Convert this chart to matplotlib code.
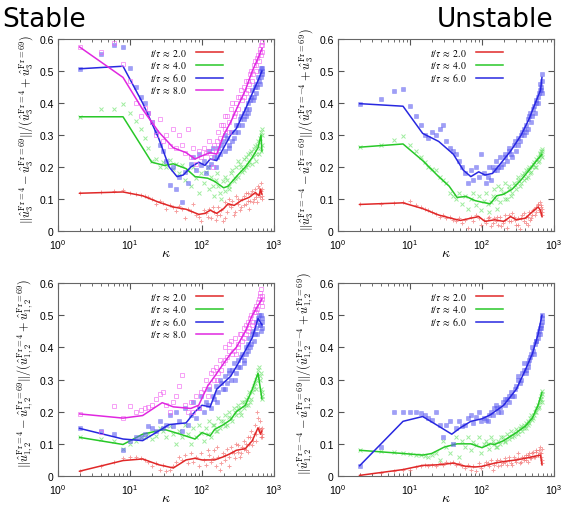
import matplotlib
matplotlib.use("Agg")
import matplotlib.pyplot as plt
from matplotlib.font_manager import FontProperties

# wavenumbers of the sampled shells (scatter points)
kappa_pts = [2, 4, 6, 8, 10, 12, 14, 16, 18, 20, 23, 26, 29, 32, 36, 40, 44, 48, 53, 58,
             64, 70, 76, 83, 90, 98, 106, 115, 124, 134, 145, 156, 168, 180, 194, 208, 223, 239, 256, 274,
             293, 313, 334, 356, 380, 405, 430, 456, 484, 512, 540, 570, 600, 630, 655, 675, 690]
kappa_hi = [120, 140, 160, 185, 210, 235, 262, 290, 320, 350, 380, 410, 440, 470, 500, 530, 560, 590, 615, 640, 660, 680]

times = ["2.0", "4.0", "6.0", "8.0"]

# ---------------- Stable, u3 ----------------
s3_k2 = [2, 8, 15, 25, 40, 60, 90, 110, 130, 160, 200, 230, 280, 350, 450, 550, 620, 650, 680]
s3_v2 = [0.118, 0.122, 0.11, 0.09, 0.075, 0.068, 0.052, 0.055, 0.065, 0.055, 0.07, 0.085, 0.08, 0.095, 0.105, 0.12, 0.11, 0.13, 0.115]
s3_k4 = [2, 8, 20, 30, 40, 60, 80, 120, 150, 200, 230, 300, 400, 500, 600, 660, 680]
s3_v4 = [0.357, 0.357, 0.215, 0.205, 0.21, 0.195, 0.17, 0.165, 0.155, 0.135, 0.14, 0.17, 0.2, 0.23, 0.26, 0.3, 0.25]
s3_k6 = [2, 8, 15, 25, 35, 45, 55, 70, 90, 110, 130, 160, 200, 250, 300, 400, 500, 600, 680]
s3_v6 = [0.507, 0.515, 0.4, 0.29, 0.2, 0.17, 0.175, 0.2, 0.215, 0.205, 0.225, 0.22, 0.26, 0.3, 0.32, 0.38, 0.43, 0.47, 0.5]
s3_k8 = [2, 8, 15, 25, 40, 60, 80, 100, 130, 160, 200, 250, 300, 400, 500, 600, 680]
s3_v8 = [0.575, 0.48, 0.38, 0.31, 0.26, 0.245, 0.225, 0.235, 0.245, 0.24, 0.3, 0.34, 0.38, 0.44, 0.5, 0.54, 0.57]

s3_p2 = [0.118, 0.122, 0.125, 0.127, 0.12, 0.115, 0.112, 0.108, 0.105, 0.1, 0.085, 0.095, 0.088, 0.07, 0.082, 0.075, 0.062, 0.078, 0.07, 0.04,
         0.068, 0.062, 0.085, 0.05, 0.045, 0.03, 0.065, 0.055, 0.07, 0.04, 0.06, 0.035, 0.075, 0.05, 0.03, 0.09, 0.06, 0.1, 0.075, 0.05,
         0.11, 0.085, 0.065, 0.1, 0.08, 0.12, 0.095, 0.07, 0.115, 0.09, 0.13, 0.105, 0.14, 0.12, 0.15, 0.11, 0.13]
s3_h2 = [0.045, 0.075, 0.05, 0.065, 0.04, 0.08, 0.095, 0.06, 0.1, 0.075, 0.11, 0.085, 0.12, 0.095, 0.125, 0.1, 0.115, 0.09, 0.135, 0.105, 0.125, 0.1]
s3_p4 = [0.357, 0.38, 0.38, 0.398, 0.37, 0.345, 0.32, 0.29, 0.26, 0.22, 0.225, 0.2, 0.215, 0.2, 0.222, 0.195, 0.21, 0.18, 0.205, 0.16,
         0.19, 0.14, 0.2, 0.165, 0.12, 0.18, 0.15, 0.185, 0.13, 0.17, 0.11, 0.16, 0.14, 0.12, 0.155, 0.125, 0.16, 0.14, 0.18, 0.155,
         0.2, 0.17, 0.21, 0.185, 0.225, 0.2, 0.24, 0.215, 0.25, 0.23, 0.265, 0.24, 0.28, 0.26, 0.31, 0.27, 0.3]
s3_h4 = [0.2, 0.14, 0.18, 0.1, 0.17, 0.13, 0.19, 0.165, 0.22, 0.2, 0.19, 0.23, 0.205, 0.245, 0.21, 0.255, 0.22, 0.27, 0.24, 0.29, 0.25, 0.32]
s3_p6 = [0.507, 0.553, 0.58, 0.575, 0.51, 0.45, 0.42, 0.4, 0.37, 0.34, 0.31, 0.27, 0.25, 0.22, 0.145, 0.2, 0.13, 0.17, 0.09, 0.185,
         0.15, 0.21, 0.23, 0.19, 0.24, 0.205, 0.22, 0.18, 0.25, 0.21, 0.23, 0.2, 0.26, 0.24, 0.28, 0.25, 0.29, 0.27, 0.31, 0.29,
         0.33, 0.31, 0.35, 0.33, 0.37, 0.36, 0.4, 0.38, 0.42, 0.41, 0.45, 0.43, 0.48, 0.46, 0.51, 0.49, 0.5]
s3_h6 = [0.2, 0.26, 0.23, 0.27, 0.3, 0.26, 0.28, 0.31, 0.33, 0.36, 0.35, 0.38, 0.37, 0.41, 0.44, 0.42, 0.46, 0.45, 0.47, 0.5, 0.48, 0.51]
s3_p8 = [0.575, 0.56, 0.588, 0.522, 0.47, 0.4, 0.36, 0.385, 0.37, 0.34, 0.3, 0.35, 0.28, 0.3, 0.265, 0.32, 0.26, 0.3, 0.27, 0.245,
         0.32, 0.23, 0.26, 0.21, 0.25, 0.23, 0.26, 0.245, 0.28, 0.23, 0.27, 0.25, 0.31, 0.29, 0.33, 0.32, 0.36, 0.34, 0.38, 0.36,
         0.4, 0.38, 0.42, 0.41, 0.45, 0.43, 0.47, 0.46, 0.5, 0.49, 0.53, 0.52, 0.55, 0.56, 0.58, 0.56, 0.59]
s3_h8 = [0.25, 0.2, 0.28, 0.33, 0.36, 0.31, 0.4, 0.37, 0.42, 0.44, 0.42, 0.47, 0.44, 0.49, 0.47, 0.52, 0.5, 0.54, 0.53, 0.57, 0.55, 0.58]

# ---------------- Unstable, u3 ----------------
u3_k2 = [2, 8, 15, 25, 40, 50, 70, 90, 110, 150, 200, 250, 300, 400, 500, 600, 650, 680]
u3_v2 = [0.083, 0.088, 0.07, 0.05, 0.038, 0.033, 0.04, 0.045, 0.03, 0.035, 0.03, 0.045, 0.035, 0.04, 0.06, 0.075, 0.065, 0.045]
u3_k4 = [2, 8, 15, 25, 35, 45, 60, 80, 100, 130, 160, 200, 260, 350, 450, 550, 680]
u3_v4 = [0.262, 0.272, 0.22, 0.17, 0.14, 0.105, 0.108, 0.095, 0.09, 0.085, 0.11, 0.115, 0.13, 0.16, 0.19, 0.215, 0.24]
u3_k6 = [2, 8, 15, 25, 40, 55, 70, 90, 110, 140, 180, 250, 350, 450, 550, 650, 680]
u3_v6 = [0.398, 0.39, 0.305, 0.28, 0.24, 0.19, 0.17, 0.185, 0.175, 0.18, 0.21, 0.25, 0.3, 0.35, 0.4, 0.44, 0.48]

u3_p2 = [0.083, 0.085, 0.087, 0.09, 0.095, 0.08, 0.075, 0.07, 0.065, 0.06, 0.052, 0.045, 0.05, 0.04, 0.045, 0.035, 0.03, 0.04, 0.025, 0.035,
         0.01, 0.045, 0.03, 0.05, 0.04, 0.02, 0.035, 0.025, 0.045, 0.015, 0.04, 0.03, 0.02, 0.045, 0.025, 0.035, 0.01, 0.05, 0.03, 0.045,
         0.02, 0.04, 0.005, 0.05, 0.03, 0.045, 0.02, 0.06, 0.04, 0.065, 0.05, 0.075, 0.085, 0.06, 0.08, 0.05, 0.07]
u3_h2 = [0.04, 0.025, 0.045, 0.015, 0.05, 0.03, 0.055, 0.035, 0.02, 0.04, 0.055, 0.025, 0.045, 0.035, 0.05, 0.07, 0.06, 0.08, 0.065, 0.09, 0.075, 0.06]
u3_p4 = [0.262, 0.27, 0.285, 0.298, 0.27, 0.25, 0.23, 0.215, 0.2, 0.195, 0.19, 0.17, 0.16, 0.15, 0.12, 0.11, 0.1, 0.12, 0.085, 0.11,
         0.07, 0.1, 0.12, 0.08, 0.11, 0.065, 0.095, 0.12, 0.06, 0.09, 0.13, 0.1, 0.14, 0.09, 0.12, 0.15, 0.1, 0.13, 0.11, 0.15,
         0.13, 0.16, 0.14, 0.175, 0.16, 0.19, 0.17, 0.2, 0.185, 0.21, 0.2, 0.225, 0.215, 0.24, 0.25, 0.23, 0.255]
u3_h4 = [0.085, 0.11, 0.07, 0.13, 0.1, 0.14, 0.12, 0.145, 0.17, 0.15, 0.18, 0.165, 0.195, 0.18, 0.2, 0.215, 0.2, 0.23, 0.22, 0.245, 0.235, 0.25]
u3_p6 = [0.398, 0.413, 0.437, 0.443, 0.39, 0.36, 0.33, 0.3, 0.29, 0.31, 0.3, 0.32, 0.33, 0.28, 0.26, 0.25, 0.24, 0.22, 0.2, 0.18,
         0.15, 0.19, 0.16, 0.2, 0.17, 0.24, 0.18, 0.15, 0.2, 0.16, 0.19, 0.22, 0.2, 0.23, 0.21, 0.24, 0.22, 0.26, 0.24, 0.27,
         0.25, 0.29, 0.28, 0.31, 0.3, 0.33, 0.32, 0.36, 0.34, 0.38, 0.37, 0.4, 0.42, 0.44, 0.45, 0.43, 0.49]
u3_h6 = [0.17, 0.2, 0.19, 0.2, 0.23, 0.25, 0.23, 0.28, 0.27, 0.3, 0.32, 0.31, 0.35, 0.37, 0.36, 0.39, 0.41, 0.4, 0.43, 0.46, 0.44, 0.47]

# ---------------- Stable, u12 ----------------
s12_k2 = [2, 8, 15, 25, 40, 60, 80, 100, 150, 200, 250, 300, 400, 500, 600, 650, 680]
s12_v2 = [0.015, 0.048, 0.053, 0.035, 0.025, 0.05, 0.055, 0.05, 0.05, 0.06, 0.07, 0.08, 0.085, 0.11, 0.15, 0.13, 0.14]
s12_k4 = [2, 8, 15, 30, 50, 80, 100, 130, 150, 200, 250, 300, 400, 500, 600, 680]
s12_v4 = [0.12, 0.098, 0.13, 0.145, 0.13, 0.115, 0.135, 0.125, 0.145, 0.16, 0.175, 0.2, 0.22, 0.27, 0.32, 0.24]
s12_k6 = [2, 8, 15, 25, 35, 60, 80, 100, 130, 160, 200, 250, 300, 400, 500, 600, 680]
s12_v6 = [0.148, 0.115, 0.11, 0.14, 0.16, 0.165, 0.2, 0.22, 0.215, 0.27, 0.29, 0.31, 0.34, 0.39, 0.43, 0.49, 0.47]
s12_k8 = [2, 8, 15, 28, 40, 70, 90, 120, 150, 200, 250, 300, 400, 500, 600, 680]
s12_v8 = [0.193, 0.18, 0.188, 0.228, 0.215, 0.21, 0.22, 0.28, 0.31, 0.35, 0.38, 0.4, 0.45, 0.5, 0.53, 0.55]

s12_p2 = [0.015, 0.03, 0.045, 0.055, 0.06, 0.06, 0.055, 0.05, 0.045, 0.03, 0.04, 0.02, 0.035, 0.015, 0.02, 0.03, 0.045, 0.06, 0.05, 0.065,
          0.04, 0.07, 0.045, 0.06, 0.03, 0.07, 0.05, 0.035, 0.065, 0.045, 0.08, 0.03, 0.06, 0.02, 0.07, 0.05, 0.085, 0.06, 0.09, 0.07,
          0.1, 0.075, 0.06, 0.09, 0.11, 0.08, 0.12, 0.1, 0.14, 0.11, 0.16, 0.13, 0.18, 0.14, 0.12, 0.15, 0.13]
s12_h2 = [0.08, 0.055, 0.09, 0.04, 0.065, 0.03, 0.075, 0.055, 0.095, 0.07, 0.085, 0.1, 0.075, 0.12, 0.095, 0.13, 0.11, 0.2, 0.15, 0.17, 0.145, 0.12]
s12_p4 = [0.12, 0.115, 0.11, 0.085, 0.1, 0.11, 0.12, 0.12, 0.13, 0.115, 0.125, 0.15, 0.14, 0.12, 0.155, 0.13, 0.1, 0.14, 0.12, 0.16,
          0.13, 0.1, 0.15, 0.12, 0.16, 0.135, 0.11, 0.15, 0.17, 0.12, 0.16, 0.14, 0.18, 0.15, 0.17, 0.19, 0.16, 0.2, 0.18, 0.21,
          0.19, 0.22, 0.2, 0.23, 0.21, 0.24, 0.22, 0.26, 0.24, 0.27, 0.29, 0.3, 0.33, 0.31, 0.27, 0.25, 0.24]
s12_h4 = [0.13, 0.16, 0.14, 0.17, 0.155, 0.185, 0.17, 0.2, 0.21, 0.19, 0.23, 0.22, 0.245, 0.23, 0.26, 0.28, 0.27, 0.31, 0.34, 0.3, 0.32, 0.26]
s12_p6 = [0.148, 0.14, 0.13, 0.08, 0.11, 0.12, 0.12, 0.13, 0.155, 0.15, 0.14, 0.17, 0.15, 0.16, 0.19, 0.155, 0.2, 0.17, 0.14, 0.21,
          0.16, 0.19, 0.23, 0.18, 0.21, 0.25, 0.2, 0.23, 0.27, 0.21, 0.24, 0.28, 0.26, 0.3, 0.27, 0.31, 0.29, 0.33, 0.3, 0.35,
          0.32, 0.36, 0.34, 0.38, 0.36, 0.4, 0.39, 0.43, 0.41, 0.45, 0.44, 0.48, 0.49, 0.47, 0.5, 0.46, 0.48]
s12_h6 = [0.22, 0.25, 0.23, 0.29, 0.27, 0.32, 0.33, 0.3, 0.34, 0.37, 0.35, 0.38, 0.41, 0.4, 0.44, 0.42, 0.46, 0.44, 0.5, 0.47, 0.45, 0.49]
s12_p8 = [0.193, 0.137, 0.217, 0.18, 0.217, 0.2, 0.205, 0.21, 0.215, 0.22, 0.24, 0.255, 0.26, 0.22, 0.2, 0.23, 0.25, 0.28, 0.315, 0.22,
          0.2, 0.23, 0.2, 0.25, 0.21, 0.26, 0.27, 0.3, 0.28, 0.32, 0.3, 0.34, 0.32, 0.36, 0.35, 0.4, 0.37, 0.39, 0.42, 0.39,
          0.38, 0.41, 0.44, 0.42, 0.46, 0.44, 0.48, 0.46, 0.5, 0.48, 0.52, 0.51, 0.54, 0.56, 0.58, 0.55, 0.53]
s12_h8 = [0.25, 0.33, 0.3, 0.33, 0.36, 0.41, 0.38, 0.43, 0.4, 0.44, 0.43, 0.47, 0.45, 0.49, 0.47, 0.51, 0.53, 0.52, 0.55, 0.57, 0.54, 0.56]

# ---------------- Unstable, u12 ----------------
u12_k2 = [2, 8, 15, 25, 40, 60, 80, 100, 150, 200, 300, 400, 500, 650, 680]
u12_v2 = [0.002, 0.02, 0.033, 0.035, 0.04, 0.03, 0.028, 0.03, 0.04, 0.045, 0.05, 0.055, 0.06, 0.065, 0.035]
u12_k4 = [2, 8, 15, 20, 30, 45, 70, 100, 130, 150, 200, 300, 400, 500, 600, 680]
u12_v4 = [0.08, 0.07, 0.065, 0.07, 0.09, 0.1, 0.1, 0.088, 0.1, 0.098, 0.11, 0.135, 0.155, 0.18, 0.22, 0.26]
u12_k6 = [2, 8, 15, 25, 38, 50, 70, 100, 130, 200, 300, 400, 500, 600, 680]
u12_v6 = [0.032, 0.17, 0.185, 0.155, 0.13, 0.15, 0.17, 0.178, 0.19, 0.22, 0.27, 0.33, 0.38, 0.44, 0.5]

u12_p2 = [0.002, 0.01, 0.015, 0.02, 0.02, 0.028, 0.03, 0.035, 0.03, 0.035, 0.03, 0.04, 0.035, 0.045, 0.04, 0.045, 0.035, 0.04, 0.03, 0.025,
          0.035, 0.02, 0.03, 0.015, 0.04, 0.025, 0.035, 0.045, 0.03, 0.05, 0.035, 0.045, 0.03, 0.05, 0.04, 0.055, 0.035, 0.05, 0.04, 0.06,
          0.045, 0.055, 0.04, 0.06, 0.05, 0.065, 0.045, 0.07, 0.055, 0.075, 0.06, 0.08, 0.065, 0.09, 0.07, 0.05, 0.04]
u12_h2 = [0.04, 0.02, 0.05, 0.035, 0.045, 0.06, 0.035, 0.05, 0.07, 0.045, 0.06, 0.05, 0.065, 0.055, 0.07, 0.06, 0.075, 0.065, 0.08, 0.07, 0.06, 0.085]
u12_p4 = [0.08, 0.078, 0.075, 0.072, 0.068, 0.066, 0.065, 0.063, 0.06, 0.065, 0.07, 0.05, 0.11, 0.09, 0.07, 0.1, 0.12, 0.06, 0.11, 0.09,
          0.12, 0.08, 0.105, 0.095, 0.12, 0.07, 0.1, 0.11, 0.085, 0.12, 0.1, 0.09, 0.11, 0.1, 0.12, 0.11, 0.13, 0.115, 0.14, 0.125,
          0.145, 0.13, 0.15, 0.14, 0.16, 0.15, 0.17, 0.165, 0.19, 0.18, 0.2, 0.21, 0.22, 0.24, 0.25, 0.23, 0.265]
u12_h4 = [0.1, 0.11, 0.09, 0.12, 0.105, 0.125, 0.12, 0.135, 0.14, 0.155, 0.15, 0.165, 0.16, 0.18, 0.175, 0.19, 0.2, 0.21, 0.215, 0.23, 0.24, 0.255]
u12_p6 = [0.032, 0.09, 0.2, 0.2, 0.2, 0.2, 0.195, 0.19, 0.18, 0.175, 0.2, 0.16, 0.12, 0.16, 0.17, 0.1, 0.15, 0.17, 0.155, 0.16,
          0.18, 0.19, 0.165, 0.185, 0.2, 0.17, 0.18, 0.175, 0.19, 0.2, 0.21, 0.22, 0.2, 0.215, 0.23, 0.22, 0.24, 0.25, 0.26, 0.25,
          0.28, 0.3, 0.29, 0.32, 0.33, 0.32, 0.35, 0.36, 0.38, 0.39, 0.41, 0.42, 0.44, 0.46, 0.47, 0.48, 0.5]
u12_h6 = [0.17, 0.19, 0.21, 0.2, 0.24, 0.23, 0.25, 0.27, 0.31, 0.3, 0.35, 0.33, 0.34, 0.37, 0.4, 0.38, 0.42, 0.43, 0.45, 0.44, 0.46, 0.49]

line_colors = ["#e02828", "#28c828", "#2828e0", "#e028e0"]
pt_colors = ["#f06060", "#60e060", "#6060f0", "#f060f0"]
pt_style = [
    dict(marker="+", ms=3.5, mew=0.7),
    dict(marker="x", ms=2.8, mew=0.7),
    dict(marker="s", ms=2.2, mew=0.4),
    dict(marker="s", ms=3.4, mew=0.7, mfc="none"),
]

ylab3_s = r"$\|\hat{u}_3^{\mathrm{Fr}=4} - \hat{u}_3^{\mathrm{Fr}=69}\|/(\hat{u}_3^{\mathrm{Fr}=4} + \hat{u}_3^{\mathrm{Fr}=69})$"
ylab3_u = r"$\|\hat{u}_3^{\mathrm{Fr}=-4} - \hat{u}_3^{\mathrm{Fr}=69}\|/(\hat{u}_3^{\mathrm{Fr}=-4} + \hat{u}_3^{\mathrm{Fr}=69})$"
ylab12_s = r"$\|\hat{u}_{1,2}^{\mathrm{Fr}=4} - \hat{u}_{1,2}^{\mathrm{Fr}=69}\|/(\hat{u}_{1,2}^{\mathrm{Fr}=4} + \hat{u}_{1,2}^{\mathrm{Fr}=69})$"
ylab12_u = r"$\|\hat{u}_{1,2}^{\mathrm{Fr}=-4} - \hat{u}_{1,2}^{\mathrm{Fr}=69}\|/(\hat{u}_{1,2}^{\mathrm{Fr}=-4} + \hat{u}_{1,2}^{\mathrm{Fr}=69})$"

panels = [
    ([0.1028, 0.5415, 0.383, 0.3794], ylab3_s,
     [(s3_k2, s3_v2, s3_p2, s3_h2), (s3_k4, s3_v4, s3_p4, s3_h4), (s3_k6, s3_v6, s3_p6, s3_h6), (s3_k8, s3_v8, s3_p8, s3_h8)]),
    ([0.5993, 0.5415, 0.383, 0.3794], ylab3_u,
     [(u3_k2, u3_v2, u3_p2, u3_h2), (u3_k4, u3_v4, u3_p4, u3_h4), (u3_k6, u3_v6, u3_p6, u3_h6)]),
    ([0.1028, 0.0573, 0.383, 0.3814], ylab12_s,
     [(s12_k2, s12_v2, s12_p2, s12_h2), (s12_k4, s12_v4, s12_p4, s12_h4), (s12_k6, s12_v6, s12_p6, s12_h6), (s12_k8, s12_v8, s12_p8, s12_h8)]),
    ([0.5993, 0.0573, 0.383, 0.3814], ylab12_u,
     [(u12_k2, u12_v2, u12_p2, u12_h2), (u12_k4, u12_v4, u12_p4, u12_h4), (u12_k6, u12_v6, u12_p6, u12_h6)]),
]

plt.rcParams["font.family"] = ["Liberation Sans", "DejaVu Sans"]
plt.rcParams["mathtext.fontset"] = "cm"

fig = plt.figure(figsize=(5.64, 5.06), dpi=100)
leg_font = FontProperties(family="Liberation Serif", size=7, math_fontfamily="stix")

for rect, ylab, series in panels:
    ax = fig.add_axes(rect)
    for i, (lk, lv, pv, hv) in enumerate(series):
        ax.plot(kappa_pts, pv, ls="none", color=pt_colors[i], alpha=0.6, **pt_style[i])
        ax.plot(kappa_hi, hv, ls="none", color=pt_colors[i], alpha=0.6, **pt_style[i])
        ax.plot(lk, lv, color=line_colors[i], lw=1.1,
                label=r"$t/\tau\;\approx\;%s$" % times[i])
    ax.set_xscale("log")
    ax.set_xlim(1, 1000)
    ax.set_ylim(0, 0.6)
    ax.set_yticks([0, 0.1, 0.2, 0.3, 0.4, 0.5, 0.6])
    ax.set_yticklabels(["0", "0.1", "0.2", "0.3", "0.4", "0.5", "0.6"])
    ax.tick_params(which="both", direction="in", top=True, right=True,
                   labelsize=7.5, color="#555555", pad=3)
    ax.tick_params(axis="x", which="both", pad=4.5)
    ax.tick_params(which="major", length=4)
    ax.tick_params(which="minor", length=2)
    for sp in ax.spines.values():
        sp.set_color("#666666")
        sp.set_linewidth(0.8)
    ax.set_xlabel(r"$\kappa$", fontsize=10)
    ax.xaxis.set_label_coords(0.5, -0.075)
    ax.set_ylabel(ylab, fontsize=8.8)
    ax.yaxis.set_label_coords(-0.105, 0.535)
    ax.legend(loc="upper right", bbox_to_anchor=(0.79, 0.99), frameon=False,
              prop=leg_font, markerfirst=False, handlelength=2.8,
              labelspacing=0.12, handletextpad=0.9, borderaxespad=0.2)

fig.text(0.004, 1 - 27 / 506, "Stable", fontsize=19, family="DejaVu Sans", va="baseline")
fig.text(0.9805, 1 - 27 / 506, "Unstable", fontsize=19, family="DejaVu Sans", va="baseline", ha="right")

fig.savefig("out.png", dpi=100)
